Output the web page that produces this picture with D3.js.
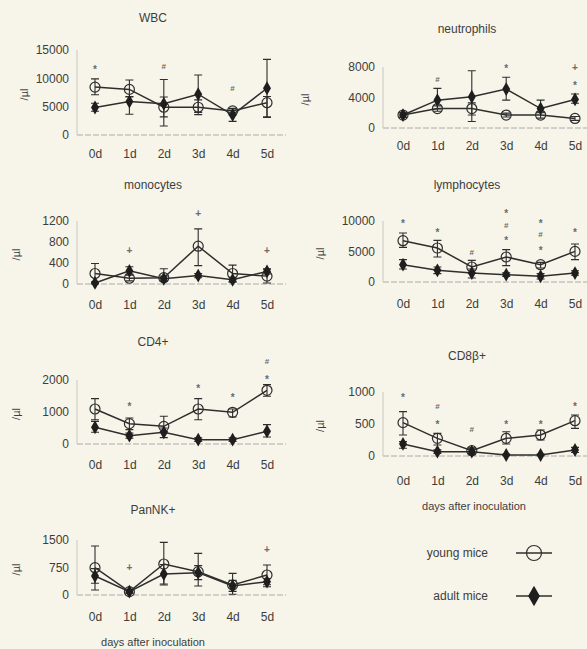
<!DOCTYPE html>
<html>
<head>
<meta charset="utf-8">
<script src="https://cdn.jsdelivr.net/npm/d3@7/dist/d3.min.js"></script>
<style>
  body { margin: 0; background: #f7f5e9; }
  svg { display: block; font-family: "Liberation Sans", Arial, sans-serif; }
  .tick text { fill: #3d3d3d; font-size: 12px; }
</style>
</head>
<body>
<div id="chart"></div>
<script>
// days after inoculation
const days = ['0d', '1d', '2d', '3d', '4d', '5d'];

// WBC
const wbcYoung = [8450, 8050, 4900, 4900, 4250, 5700];
const wbcYoungErr = [[7100, 9900], [6800, 9700], [3200, 6700], [3600, 6200], [3600, 4600], [3200, 6800]];
const wbcAdult = [4850, 5900, 5500, 7200, 3550, 8250];
const wbcAdultErr = [[4200, 5600], [3650, 6700], [1600, 9800], [4000, 10600], [2400, 4700], [3100, 13350]];
const wbcMarks = [[0, '*', 12000], [2, '#', 12000], [4, '#', 8200]];

// neutrophils
const neuYoung = [1700, 2550, 2550, 1700, 1700, 1250];
const neuYoungErr = [[1400, 2000], [2200, 2900], [1700, 3300], [1450, 1950], [1300, 2100], [1000, 1500]];
const neuAdult = [1700, 3650, 4100, 5100, 2550, 3750];
const neuAdultErr = [[1400, 2000], [2500, 5200], [850, 7500], [3650, 6650], [2000, 3650], [3250, 4450]];
const neuMarks = [[1, '#', 6400], [3, '*', 8100], [5, '+', 7900], [5, '*', 5900]];

// monocytes
const monoYoung = [200, 110, 120, 720, 200, 150];
const monoYoungErr = [[20, 390], [60, 170], [60, 290], [350, 1050], [40, 360], [20, 280]];
const monoAdult = [20, 250, 100, 160, 80, 240];
const monoAdultErr = [[0, 40], [190, 330], [50, 150], [120, 200], [40, 120], [190, 290]];
const monoMarks = [[1, '+', 630], [3, '+', 1330], [5, '+', 630]];

// lymphocytes
const lymYoung = [6770, 5570, 2460, 4100, 2840, 5020];
const lymYoungErr = [[5680, 8030], [4100, 6830], [1470, 3550], [2680, 5300], [2290, 3220], [3660, 6220]];
const lymAdult = [2840, 1910, 1470, 1200, 930, 1470];
const lymAdultErr = [[2130, 3660], [1370, 2460], [650, 2130], [900, 1500], [500, 1370], [1100, 1850]];
const lymMarks = [[0, '*', 10000], [1, '*', 8500], [2, '#', 4900], [3, '*', 11500], [3, '#', 9300], [3, '*', 7050],
  [4, '*', 10000], [4, '#', 7700], [4, '*', 5550], [5, '*', 8500]];

// CD4+
const cd4Young = [1094, 636, 552, 1094, 990, 1678];
const cd4YoungErr = [[760, 1417], [448, 813], [396, 865], [760, 1417], [844, 1094], [1490, 1855]];
const cd4Adult = [521, 260, 365, 135, 135, 396];
const cd4AdultErr = [[365, 708], [180, 340], [200, 500], [80, 190], [80, 190], [219, 604]];
const cd4Marks = [[1, '*', 1250], [3, '*', 1800], [4, '*', 1530], [5, '*', 2090], [5, '#', 2560]];

// CD8b+
const cd8Young = [521, 276, 83, 276, 328, 552];
const cd8YoungErr = [[328, 693], [172, 354], [40, 130], [188, 380], [250, 406], [432, 641]];
const cd8Adult = [188, 68, 68, 16, 16, 94];
const cd8AdultErr = [[120, 224], [40, 95], [20, 120], [5, 30], [5, 30], [55, 135]];
const cd8Marks = [[0, '*', 950], [1, '#', 765], [1, '*', 530], [2, '#', 405], [3, '*', 530], [4, '*', 530], [5, '*', 810]];

// PanNK+
const nkYoung = [745, 91, 845, 636, 273, 545];
const nkYoungErr = [[136, 1336], [50, 130], [273, 1436], [245, 1136], [20, 590], [227, 818]];
const nkAdult = [518, 91, 573, 609, 245, 364];
const nkAdultErr = [[320, 720], [50, 130], [300, 830], [420, 800], [100, 400], [280, 450]];
const nkMarks = [[1, '+', 740], [5, '+', 1230]];

const width = 587, height = 649;
const ink = '#2e2e2e';
const textCol = '#3d3d3d';

// panel placement: col 0 = left, 1 = right
const panels = [
  { title: 'WBC', col: 0, top: 50, bottom: 135, max: 15000, ticks: [0, 5000, 10000, 15000], titleY: 18, labX: 24, pad: 14,
    young: wbcYoung, youngErr: wbcYoungErr, adult: wbcAdult, adultErr: wbcAdultErr, marks: wbcMarks },
  { title: 'neutrophils', col: 1, top: 67, bottom: 128, max: 8000, ticks: [0, 4000, 8000], titleY: 29, labX: 305, pad: 13,
    young: neuYoung, youngErr: neuYoungErr, adult: neuAdult, adultErr: neuAdultErr, marks: neuMarks },
  { title: 'monocytes', col: 0, top: 221, bottom: 284, max: 1200, ticks: [0, 400, 800, 1200], titleY: 185, labX: 16, pad: 16,
    young: monoYoung, youngErr: monoYoungErr, adult: monoAdult, adultErr: monoAdultErr, marks: monoMarks },
  { title: 'lymphocytes', col: 1, top: 221, bottom: 282, max: 10000, ticks: [0, 5000, 10000], titleY: 185, labX: 320, pad: 17,
    young: lymYoung, youngErr: lymYoungErr, adult: lymAdult, adultErr: lymAdultErr, marks: lymMarks },
  { title: 'CD4+', col: 0, top: 380, bottom: 444, max: 2000, ticks: [0, 1000, 2000], titleY: 342, labX: 16, pad: 16,
    young: cd4Young, youngErr: cd4YoungErr, adult: cd4Adult, adultErr: cd4AdultErr, marks: cd4Marks },
  { title: 'CD8\u03B2+', col: 1, top: 392, bottom: 456, max: 1000, ticks: [0, 500, 1000], titleY: 356, labX: 320, pad: 20,
    young: cd8Young, youngErr: cd8YoungErr, adult: cd8Adult, adultErr: cd8AdultErr, marks: cd8Marks, xTitle: 506 },
  { title: 'PanNK+', col: 0, top: 540, bottom: 595, max: 1500, ticks: [0, 750, 1500], titleY: 510, labX: 16, pad: 17,
    young: nkYoung, youngErr: nkYoungErr, adult: nkAdult, adultErr: nkAdultErr, marks: nkMarks, xTitle: 642 }
];

const cols = [
  { axisX: 77, x0: 95, x1: 267, end: 286, titleX: 153, xTitleX: 153 },
  { axisX: 383, x0: 403, x1: 575, end: 590, titleX: 467, xTitleX: 474 }
];

const svg = d3.select('#chart').append('svg')
  .attr('width', width)
  .attr('height', height);

svg.append('rect').attr('width', width).attr('height', height).attr('fill', '#f7f5e9');

const diamond = d3.symbol().type(d3.symbolDiamond).size(55);

panels.forEach(p => {
  const c = cols[p.col];
  const x = d3.scalePoint().domain(days).range([c.x0, c.x1]);
  const y = d3.scaleLinear().domain([0, p.max]).range([p.bottom, p.top]);
  const g = svg.append('g');

  g.append('text')
    .attr('x', c.titleX).attr('y', p.titleY)
    .attr('dy', '0.35em')
    .attr('text-anchor', 'middle')
    .attr('fill', textCol)
    .style('font-size', '12px')
    .text(p.title);

  // faint axis lines
  g.append('line')
    .attr('x1', c.axisX).attr('x2', c.end)
    .attr('y1', y(0)).attr('y2', y(0))
    .attr('stroke', '#aaa').attr('stroke-width', 1)
    .attr('stroke-dasharray', '6,2');
  g.append('line')
    .attr('x1', c.axisX).attr('x2', c.axisX)
    .attr('y1', y(p.max)).attr('y2', y(0))
    .attr('stroke', '#c8c8c0').attr('stroke-width', 1);

  const yAxis = g.append('g')
    .attr('transform', `translate(${c.axisX},0)`)
    .call(d3.axisLeft(y).tickValues(p.ticks).tickSize(0).tickPadding(8).tickFormat(d3.format('d')));
  yAxis.select('.domain').remove();

  const xAxis = g.append('g')
    .attr('transform', `translate(0,${y(0)})`)
    .call(d3.axisBottom(x).tickSize(0).tickPadding(p.pad));
  xAxis.select('.domain').remove();

  g.append('text')
    .attr('transform', `translate(${p.labX},${(y(0) + y(p.max)) / 2 + 2}) rotate(-90)`)
    .attr('text-anchor', 'middle')
    .attr('dy', '0.35em')
    .attr('fill', textCol)
    .style('font-size', '11px')
    .text('/\u00B5l');

  if (p.xTitle) {
    g.append('text')
      .attr('x', c.xTitleX).attr('y', p.xTitle)
      .attr('dy', '0.35em')
      .attr('text-anchor', 'middle')
      .attr('fill', textCol)
      .style('font-size', '11px')
      .text('days after inoculation');
  }

  const line = d3.line().x((d, i) => x(days[i])).y(d => y(d));

  [[p.young, p.youngErr], [p.adult, p.adultErr]].forEach(([vals, errs]) => {
    errs.forEach((e, i) => {
      const cx = x(days[i]);
      g.append('path')
        .attr('d', `M${cx - 4},${y(e[1])}H${cx + 4}M${cx},${y(e[1])}V${y(e[0])}M${cx - 4},${y(e[0])}H${cx + 4}`)
        .attr('fill', 'none')
        .attr('stroke', ink).attr('stroke-width', 1.1);
    });
    g.append('path')
      .attr('d', line(vals))
      .attr('fill', 'none')
      .attr('stroke', ink).attr('stroke-width', 1.5);
  });

  g.selectAll('circle.young')
    .data(p.young)
    .join('circle')
    .attr('class', 'young')
    .attr('cx', (d, i) => x(days[i]))
    .attr('cy', d => y(d))
    .attr('r', 5)
    .attr('fill', 'none')
    .attr('stroke', ink).attr('stroke-width', 1.2);

  g.selectAll('path.adult')
    .data(p.adult)
    .join('path')
    .attr('class', 'adult')
    .attr('transform', (d, i) => `translate(${x(days[i])},${y(d)})`)
    .attr('d', diamond)
    .attr('fill', '#1e1e1e');

  g.selectAll('text.mark')
    .data(p.marks)
    .join('text')
    .attr('class', 'mark')
    .attr('x', d => x(days[d[0]]))
    .attr('y', d => y(d[2]))
    .attr('dy', d => d[1] === '*' ? '0.55em' : '0.3em')
    .attr('text-anchor', 'middle')
    .attr('fill', '#6a6a6a')
    .style('font-size', d => d[1] === '#' ? '8px' : '10px')
    .style('font-weight', 'bold')
    .text(d => d[1]);
});

// legend
const legend = [
  { label: 'young mice', y: 553, type: 'circle' },
  { label: 'adult mice', y: 596, type: 'diamond' }
];
const lg = svg.append('g');
legend.forEach(l => {
  lg.append('text')
    .attr('x', 488).attr('y', l.y)
    .attr('dy', '0.35em')
    .attr('text-anchor', 'end')
    .attr('fill', textCol)
    .style('font-size', '12px')
    .text(l.label);
  lg.append('line')
    .attr('x1', 516).attr('x2', 552)
    .attr('y1', l.y).attr('y2', l.y)
    .attr('stroke', ink).attr('stroke-width', 1.3);
  if (l.type === 'circle') {
    lg.append('circle')
      .attr('cx', 534).attr('cy', l.y).attr('r', 7.5)
      .attr('fill', 'none').attr('stroke', ink).attr('stroke-width', 1.2);
  } else {
    lg.append('path')
      .attr('transform', `translate(534,${l.y})`)
      .attr('d', d3.symbol().type(d3.symbolDiamond).size(120))
      .attr('fill', '#1e1e1e');
  }
});
</script>
</body>
</html>
